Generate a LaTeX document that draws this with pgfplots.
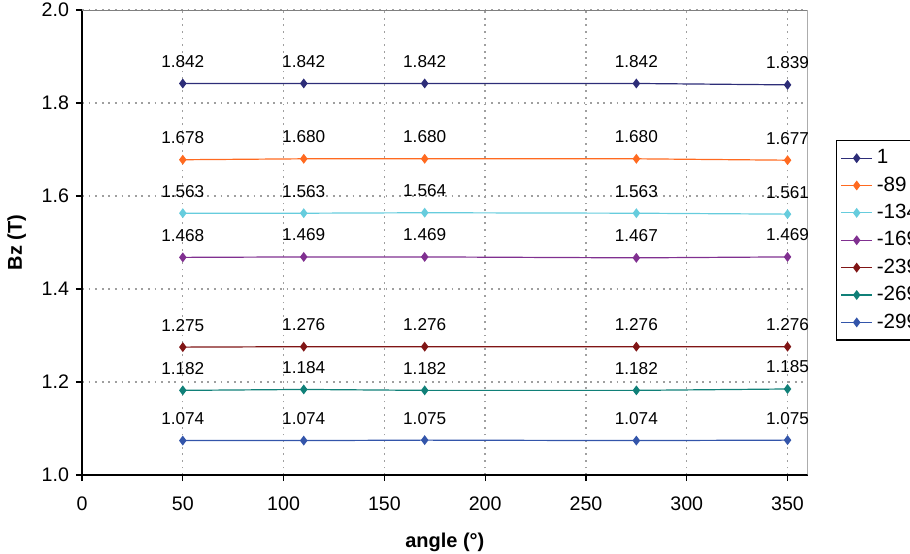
\documentclass[border=0pt]{standalone}
\usepackage{pgfplots}
\pgfplotsset{compat=1.18}
\usepackage{fontspec}
\setmainfont{Liberation Sans}
\definecolor{c1}{RGB}{45,45,120}
\definecolor{c2}{RGB}{255,106,32}
\definecolor{c3}{RGB}{102,204,221}
\definecolor{c4}{RGB}{128,48,144}
\definecolor{c5}{RGB}{128,21,21}
\definecolor{c6}{RGB}{16,128,120}
\definecolor{c7}{RGB}{51,85,170}
\begin{document}
\begin{tikzpicture}
\path[use as bounding box, clip] (-41pt,-39pt) rectangle (414pt,237.5pt);
\begin{axis}[
  at={(0,0)}, anchor=south west,
  scale only axis, width=362.85pt, height=232.5pt,
  xmin=0, xmax=360, ymin=1.0, ymax=2.0,
  xtick={0,50,...,350}, ytick={1.0,1.2,...,2.0},
  axis x line*=bottom, axis y line*=left,
  axis line style={black, line width=0.6pt},
  tick align=outside, major tick length=3pt,
  tick style={black, line width=0.6pt},
  grid=major, grid style={gray!75, dash pattern=on 0.9pt off 2.4pt, line width=0.7pt},
  ticklabel style={font=\fontsize{9.8}{11}\selectfont},
  xticklabel style={yshift=-4.5pt},
  /pgf/number format/assume math mode=true,
  yticklabel style={/pgf/number format/.cd, fixed, fixed zerofill, precision=1},
  ylabel={\bfseries Bz (T)}, xlabel={\bfseries angle (°)},
  label style={font=\fontsize{10}{12}\selectfont},
  xlabel style={yshift=-4pt},
  ylabel style={yshift=1pt},
  every axis plot/.append style={line width=0.6pt, mark=diamond*, mark size=2pt},
  nodes near coords={\pgfmathprintnumber[fixed,fixed zerofill,precision=3]{\pgfplotspointmeta}},
  every node near coord/.append style={font=\fontsize{8.6}{10}\selectfont, black, anchor=base, yshift=8pt},
  legend style={at={(1.039,0.7204)}, anchor=north west, draw=black, line width=0.6pt,
    font=\fontsize{10.3}{12}\selectfont, row sep=1.0pt, inner xsep=2pt, inner ysep=2.5pt},
  legend cell align=left,
  legend image code/.code={\draw[mark repeat=2,mark phase=2] plot coordinates {(0pt,0pt) (7.75pt,0pt) (15.5pt,0pt)};},
]
\addplot[c1, mark options={fill=c1}] coordinates {(50,1.842) (110,1.842) (170,1.842) (275,1.842) (350,1.839)};
\addlegendentry{1}
\addplot[c2, mark options={fill=c2}] coordinates {(50,1.678) (110,1.680) (170,1.680) (275,1.680) (350,1.677)};
\addlegendentry{-89}
\addplot[c3, mark options={fill=c3}] coordinates {(50,1.563) (110,1.563) (170,1.564) (275,1.563) (350,1.561)};
\addlegendentry{-134.5}
\addplot[c4, mark options={fill=c4}] coordinates {(50,1.468) (110,1.469) (170,1.469) (275,1.467) (350,1.469)};
\addlegendentry{-169.5}
\addplot[c5, mark options={fill=c5}] coordinates {(50,1.275) (110,1.276) (170,1.276) (275,1.276) (350,1.276)};
\addlegendentry{-239.5}
\addplot[c6, mark options={fill=c6}] coordinates {(50,1.182) (110,1.184) (170,1.182) (275,1.182) (350,1.185)};
\addlegendentry{-269.5}
\addplot[c7, mark options={fill=c7}] coordinates {(50,1.074) (110,1.074) (170,1.075) (275,1.074) (350,1.075)};
\addlegendentry{-299.5}
\draw[gray, line width=0.6pt] (rel axis cs:0,1) -- (rel axis cs:1,1) -- (rel axis cs:1,0);
\end{axis}
\end{tikzpicture}
\end{document}
